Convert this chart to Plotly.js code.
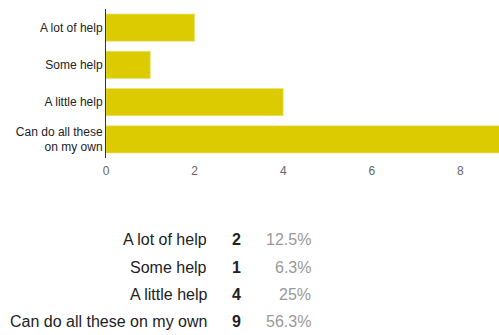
<!DOCTYPE html>
<html>
<head>
<meta charset="utf-8">
<script src="https://cdn.plot.ly/plotly-3.0.1.min.js"></script>
<style>html,body{margin:0;padding:0;background:#fff;}#chart{width:499px;height:335px;}</style>
</head>
<body>
<div id="chart"></div>
<script>
var categories = ["A lot of help", "Some help", "A little help", "Can do all these on my own"];
var tickLabels = ["A lot of help", "Some help", "A little help", "Can do all these<br>on my own"];
var counts = [2, 1, 4, 9];
var percents = ["12.5%", "6.3%", "25%", "56.3%"];
var xTicks = [0, 2, 4, 6, 8];

var W = 499, H = 335;
var L = 106, R = 0, T = 9, B = 177;
var pw = W - L - R, ph = H - T - B;
function px(x) { return (x - L) / pw; }
function py(y) { return (H - B - y) / ph; }

var rowY = [239, 267, 294, 321];
var FF = 'Liberation Sans, Arial, sans-serif';
var annotations = [];
categories.forEach(function (c, i) {
  annotations.push({xref: 'paper', yref: 'paper', x: px(209), y: py(rowY[i]), xanchor: 'right', yanchor: 'middle',
    text: c, showarrow: false, font: {family: FF, size: 16, color: '#222'}});
  annotations.push({xref: 'paper', yref: 'paper', x: px(236), y: py(rowY[i]), xanchor: 'center', yanchor: 'middle',
    text: '<b>' + counts[i] + '</b>', showarrow: false, font: {family: FF, size: 16, color: '#222'}});
  annotations.push({xref: 'paper', yref: 'paper', x: px(313), y: py(rowY[i]), xanchor: 'right', yanchor: 'middle',
    text: percents[i], showarrow: false, font: {family: FF, size: 16, color: '#999'}});
});

var trace = {
  type: 'bar', orientation: 'h',
  x: counts, y: categories,
  marker: {color: '#dccb00', line: {color: '#ece27a', width: 0.6}},
  hoverinfo: 'none'
};

var layout = {
  width: W, height: H,
  margin: {l: L, r: R, t: T, b: B, pad: 0},
  paper_bgcolor: '#fff', plot_bgcolor: '#fff',
  showlegend: false,
  bargap: 0.27,
  font: {family: FF},
  xaxis: {range: [0, 8.87], tickvals: xTicks, ticktext: xTicks.map(String), showgrid: false, zeroline: false,
    showline: false, ticks: 'outside', ticklen: 2, tickcolor: 'rgba(0,0,0,0)', tickfont: {size: 12, color: '#666'}, fixedrange: true},
  yaxis: {type: 'category', autorange: 'reversed', tickvals: categories, ticktext: tickLabels, showgrid: false,
    zeroline: false, showline: true, linecolor: '#333', linewidth: 1, ticks: '', ticklen: 0,
    tickfont: {size: 12, color: '#222'}, fixedrange: true},
  annotations: annotations
};

Plotly.newPlot('chart', [trace], layout, {displayModeBar: false, staticPlot: true});
</script>
</body>
</html>
